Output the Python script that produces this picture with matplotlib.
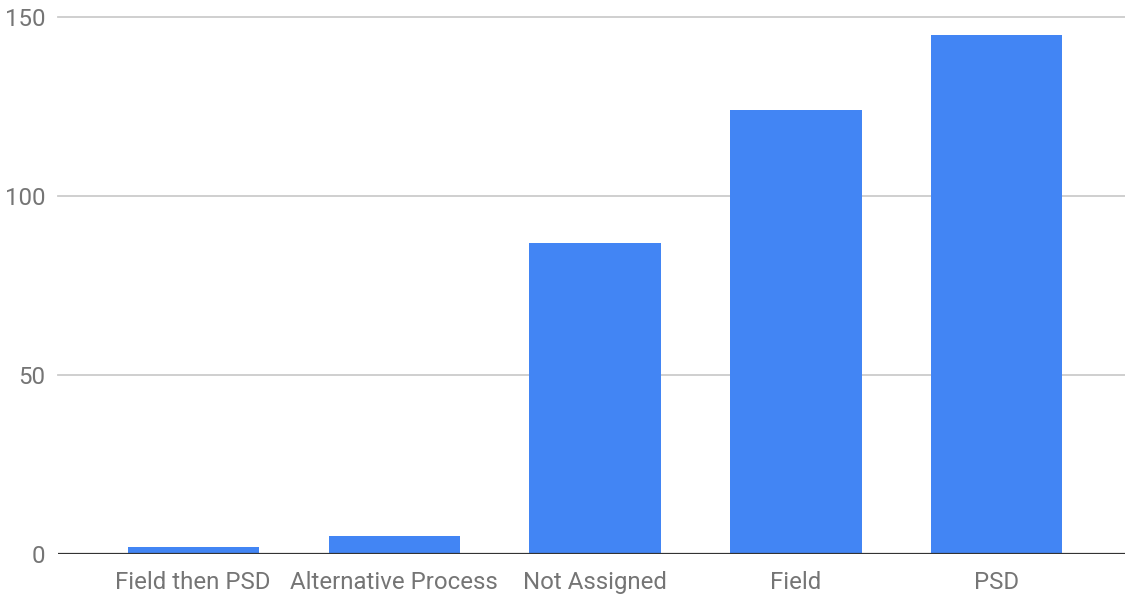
import matplotlib
matplotlib.use('Agg')
import matplotlib.pyplot as plt

categories = ['Field then PSD', 'Alternative Process', 'Not Assigned', 'Field', 'PSD']
counts = [2, 5, 87, 124, 145]
yticks = [0, 50, 100, 150]

plt.rcParams['font.family'] = ['Roboto', 'DejaVu Sans']

fig = plt.figure(figsize=(11.25, 5.94), dpi=100)
ax = fig.add_axes([58 / 1125, 40 / 594, 1067 / 1125, 537 / 594])

x = list(range(len(categories)))
ax.bar(x, counts, width=0.652, color='#4285F4', zorder=3)

ax.set_xlim(-0.672, 4.637)
ax.set_ylim(0, 150)
ax.set_yticks(yticks)
ax.set_xticks(x)
ax.set_xticklabels(categories)

for y in yticks[1:]:
    ax.axhline(y, color='#cccccc', linewidth=1.3, zorder=1, clip_on=False)
ax.axhline(0, color='#333333', linewidth=1.6, zorder=4)

for s in ax.spines.values():
    s.set_visible(False)
ax.tick_params(axis='both', length=0, colors='#757575', labelsize=17.3)
ax.tick_params(axis='y', pad=9)
ax.tick_params(axis='x', pad=12)

plt.savefig('out.png', dpi=100)
plt.close()
